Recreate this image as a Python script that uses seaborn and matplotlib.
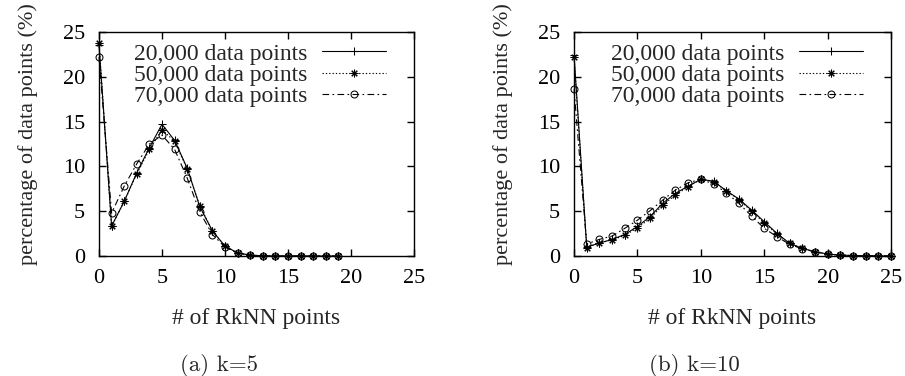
import numpy as np
import pandas as pd
import matplotlib
matplotlib.use("Agg")
import matplotlib.pyplot as plt
import seaborn as sns

# RkNN count distribution, k = 5
k5_x = list(range(0, 20))
k5_20000 = [23.5, 3.35, 6.1, 9.3, 12.1, 14.7, 12.9, 9.8, 5.5, 2.8, 1.1, 0.35, 0.1, 0.03, 0, 0, 0, 0, 0, 0]
k5_50000 = [23.8, 3.3, 6.1, 9.2, 11.9, 14.1, 12.8, 9.7, 5.6, 2.8, 1.1, 0.35, 0.1, 0.03, 0, 0, 0, 0, 0, 0]
k5_70000 = [22.2, 4.8, 7.8, 10.3, 12.5, 13.5, 11.9, 8.7, 4.9, 2.4, 1.0, 0.3, 0.08, 0.02, 0, 0, 0, 0, 0, 0]

# RkNN count distribution, k = 10
k10_x = list(range(0, 26))
k10_20000 = [22.4, 1.0, 1.45, 1.85, 2.4, 3.3, 4.4, 5.9, 7.0, 7.8, 8.56, 8.35, 7.3, 6.36, 5.13,
             3.83, 2.53, 1.41, 0.86, 0.48, 0.22, 0.11, 0.05, 0.02, 0.01, 0.0]
k10_50000 = [22.2, 0.95, 1.45, 1.8, 2.3, 3.15, 4.2, 5.7, 6.8, 7.75, 8.56, 8.3, 7.25, 6.3, 5.0,
             3.7, 2.45, 1.4, 0.85, 0.47, 0.22, 0.11, 0.05, 0.02, 0.01, 0.0]
k10_70000 = [18.6, 1.34, 1.86, 2.23, 3.09, 4.0, 5.06, 6.25, 7.37, 8.18, 8.56, 8.04, 7.07, 5.88, 4.46,
             3.09, 2.16, 1.3, 0.8, 0.45, 0.2, 0.1, 0.04, 0.02, 0.01, 0.0]

series_labels = ["20,000 data points", "50,000 data points", "70,000 data points"]
axis_ticks = [0, 5, 10, 15, 20, 25]
x_label = "# of RkNN points"
y_label = "percentage of data points (%)"
captions = ["(a) k=5", "(b) k=10"]

sns.set_style("ticks")
plt.rcParams["font.family"] = ["Liberation Serif", "DejaVu Serif"]
plt.rcParams["font.size"] = 16
plt.rcParams["axes.linewidth"] = 1.0

# gnuplot-like line types: solid/+, dotted/asterisk, dash-dot/open circle
styles = [
    dict(linestyle="-", marker="+", markersize=6, markeredgewidth=0.75,
         markerfacecolor="black"),
    dict(linestyle=(0, (1.2, 1.8)), marker=(8, 2, 0), markersize=5.5, markeredgewidth=0.75,
         markerfacecolor="black"),
    dict(linestyle=(0, (6, 3, 1.5, 3)), marker="o", markersize=5, markeredgewidth=0.75,
         markerfacecolor="none"),
]

fig = plt.figure(figsize=(9.05, 3.76), dpi=100)
ax_a = fig.add_axes([0.1094, 0.3191, 0.3481, 0.5957])
ax_b = fig.add_axes([0.6343, 0.3191, 0.3503, 0.5957])

panels = [
    (ax_a, k5_x, [k5_20000, k5_50000, k5_70000], captions[0]),
    (ax_b, k10_x, [k10_20000, k10_50000, k10_70000], captions[1]),
]

for ax, xs, ys_list, cap in panels:
    for ys, lab, st in zip(ys_list, series_labels, styles):
        df = pd.DataFrame({"x": xs, "y": ys})
        sns.lineplot(data=df, x="x", y="y", ax=ax, color="black", linewidth=0.8,
                     label=lab)
        line = ax.lines[-1]
        line.set_linestyle(st["linestyle"])
        line.set_marker(st["marker"])
        line.set_markersize(st["markersize"])
        line.set_markeredgewidth(st["markeredgewidth"])
        line.set_markeredgecolor("black")
        line.set_markerfacecolor(st["markerfacecolor"])
        line.set_clip_on(False)
    ax.set_xlim(0, 25)
    ax.set_ylim(0, 25)
    ax.set_xticks(axis_ticks)
    ax.set_yticks(axis_ticks)
    ax.tick_params(direction="in", top=True, right=True, length=5, width=1.0,
                   labelsize=16, colors="black")
    ax.tick_params(axis="y", pad=10)
    ax.tick_params(axis="x", pad=9)
    for sp in ax.spines.values():
        sp.set_visible(True)
        sp.set_color("black")
    ax.set_xlabel(x_label, fontsize=17)
    ax.xaxis.set_label_coords(0.5, -0.28)
    ax.xaxis.label.set_va("center")
    ax.set_ylabel(y_label, fontsize=16)
    ax.yaxis.set_label_coords(-0.225, 0.545)
    ax.yaxis.label.set_va("center")
    ax.text(0.38, -0.49, cap, transform=ax.transAxes, ha="center", va="center",
            fontsize=16.5, family=["cmr10", "DejaVu Serif"])
    handles = ax.lines[:3]
    ax.legend(handles, series_labels, loc="upper right", bbox_to_anchor=(0.911, 0.95),
              frameon=False, markerfirst=False, handlelength=2.7, handletextpad=0.62,
              labelspacing=-0.02, borderpad=0, borderaxespad=0, numpoints=1,
              fontsize=17)

fig.savefig("out.png", dpi=100)
